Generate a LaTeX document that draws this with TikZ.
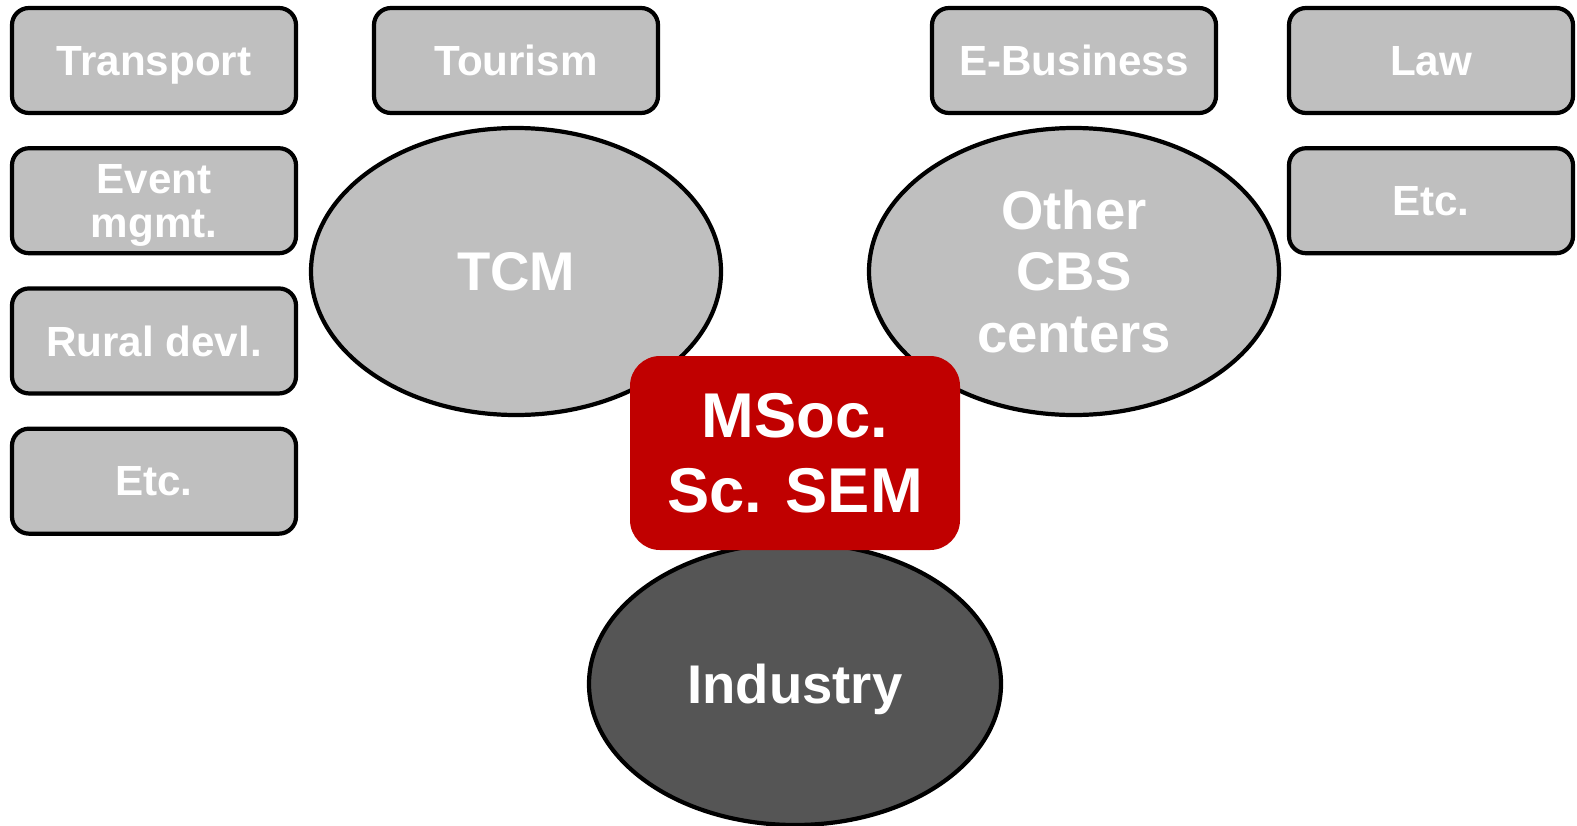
\documentclass[tikz,border=0pt]{standalone}
\usepackage{fontspec}
\setmainfont{Liberation Sans}
\usepackage{xcolor}
\usepackage{tikz}
\usetikzlibrary{shapes.geometric, positioning}
\definecolor{boxgray}{RGB}{191, 191, 191}
\definecolor{darkgray}{RGB}{85, 85, 85}
\definecolor{semred}{RGB}{192, 0, 0}

\begin{document}
\begin{tikzpicture}[
    x=0.2mm, y=-0.2mm,
    node distance=6.2mm,
    every node/.style={font=\bfseries, text=white},
    areabox/.style={rectangle, draw=black, fill=boxgray, rounded corners=3.4mm, minimum width=56.8mm, minimum height=21mm, inner sep=2pt, text depth=0pt, align=center, line width=2.4pt, font=\bfseries\fontsize{24}{25}\selectfont},
    unitell/.style={ellipse, draw=black, fill=boxgray, minimum width=82mm, minimum height=57.4mm, align=center, line width=2.4pt, font=\bfseries\fontsize{31}{35}\selectfont},
    progbox/.style={rectangle, fill=semred, rounded corners=6mm, minimum width=66mm, minimum height=38.8mm, align=center, font=\bfseries\fontsize{36}{43}\selectfont}
]
\useasboundingbox (0,0) rectangle (1577,825);

% Left column
\node[areabox] (transport) at (154,60.5) {Transport};
\node[areabox, below=of transport] (event) {Event\\mgmt.};
\node[areabox, below=of event] (rural) {Rural devl.};
\node[areabox, below=of rural] (etcleft) {Etc.};

% Top row
\node[areabox] (tourism) at (516,60.5) {Tourism};
\node[areabox] (ebusiness) at (1074,60.5) {E-Business};

% Right column
\node[areabox] (law) at (1431,60.5) {Law};
\node[areabox, below=of law] (etcright) {Etc.};

% Centers
\node[unitell] (tcm) at (516,271.5) {TCM};
\node[unitell] (othercbs) at (1074,271.5) {Other\\CBS\\centers};

% Industry
\node[unitell, fill=darkgray, text depth=0pt, minimum width=82.4mm, minimum height=56.4mm] (industry) at (795,684) {Industry};

% Programme
\node[progbox] (msoc) at (795,453) {MSoc.\\Sc. SEM};

\end{tikzpicture}
\end{document}
